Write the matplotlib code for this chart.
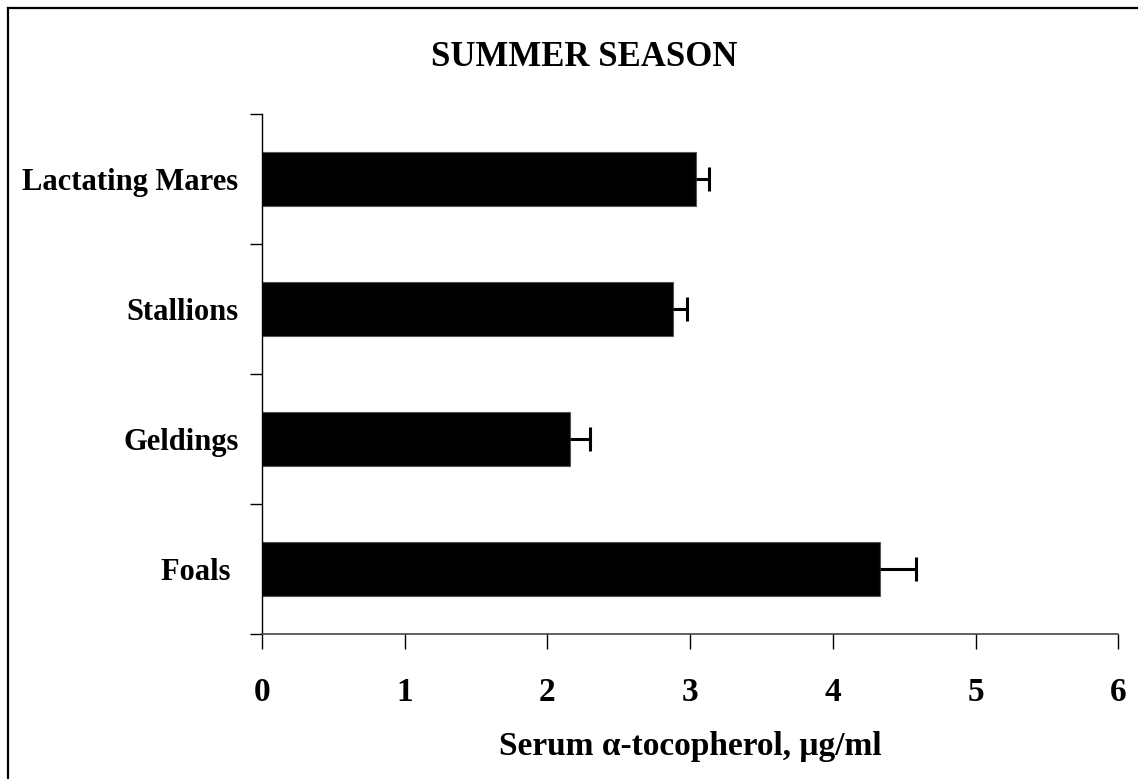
import matplotlib
matplotlib.use("Agg")
import matplotlib.pyplot as plt
from matplotlib.lines import Line2D

categories = ["Foals ", "Geldings", "Stallions", "Lactating Mares"]
values = [4.33, 2.16, 2.88, 3.04]
errors = [0.25, 0.14, 0.10, 0.09]
xticks = [0, 1, 2, 3, 4, 5, 6]

plt.rcParams['font.family'] = ['Liberation Serif', 'DejaVu Serif']
plt.rcParams['font.weight'] = 'bold'

W, H = 1138, 779
fig = plt.figure(figsize=(W / 100, H / 100), dpi=100)
ax = fig.add_axes([262 / W, 1 - 634 / H, (1118.3 - 262) / W, (634 - 114) / H])

ypos = list(range(len(categories)))
ax.barh(ypos, values, height=0.41, color='black', edgecolor='#555555', linewidth=0.8, zorder=2)
eb = ax.errorbar(values, ypos, xerr=[[0] * len(errors), errors], fmt='none', ecolor='black',
                 elinewidth=2.2, capsize=8.5, capthick=2.2, zorder=3)
# hide the caps at the bar ends (one-sided error bars)
eb[1][0].set_visible(False)

ax.set_xlim(0, 6)
ax.set_ylim(-0.5, len(categories) - 0.5)
ax.set_xticks(xticks)
ax.set_xticklabels([str(t) for t in xticks], fontsize=24, fontweight='bold')
ax.set_yticks([i - 0.5 for i in range(len(categories) + 1)])
ax.set_yticklabels([])
ax.set_yticks(ypos, minor=True)
ax.set_yticklabels(categories, minor=True, fontsize=22, fontweight='bold')
ax.tick_params(axis='y', which='minor', length=0, pad=17)
ax.tick_params(axis='y', which='major', direction='out', length=9, width=1, color='black')
ax.tick_params(axis='x', direction='out', length=11, width=1, pad=20, color='black')

for s in ['top', 'right']:
    ax.spines[s].set_visible(False)
ax.spines['left'].set_color('black')
ax.spines['bottom'].set_color('#444444')
ax.spines['left'].set_linewidth(1)
ax.spines['bottom'].set_linewidth(1.2)

fig.text(584 / W, 1 - 57 / H, "SUMMER SEASON", ha='center', va='center',
         fontsize=25, fontweight='bold')
fig.text(690 / W, 1 - 746 / H, "Serum α-tocopherol, μg/ml", ha='center', va='center',
         fontsize=24, fontweight='bold')

# chart border (left and top visible)
fig.add_artist(Line2D([7.5 / W, 7.5 / W], [0, 1 - 8 / H], transform=fig.transFigure,
                      color='black', linewidth=1.6))
fig.add_artist(Line2D([7.5 / W, 1], [1 - 8 / H, 1 - 8 / H], transform=fig.transFigure,
                      color='black', linewidth=1.6))

fig.savefig("out.png", dpi=100)
